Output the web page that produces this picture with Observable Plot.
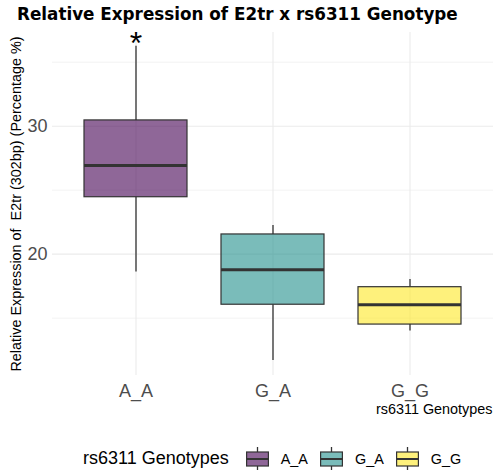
<!DOCTYPE html>
<html><head><meta charset="utf-8">
<script src="https://cdn.jsdelivr.net/npm/d3@7"></script>
<script src="https://cdn.jsdelivr.net/npm/@observablehq/plot@0.6"></script>
<style>
body{margin:0;background:#fff;}
#wrap{position:relative;width:500px;height:474px;overflow:hidden;background:#fff;font-family:"Liberation Sans",Arial,sans-serif;}
#title{position:absolute;left:17px;top:6px;z-index:2;font-family:"DejaVu Sans",sans-serif;font-weight:bold;font-size:16.8px;line-height:17px;white-space:nowrap;color:#000;}
#chart{position:absolute;left:0;top:22px;z-index:1;}
#legend{position:absolute;left:83px;top:447px;height:23px;display:flex;align-items:center;white-space:nowrap;}
#legend .lt{font-size:18px;margin-right:17px;color:#000;}
#legend .lk{margin-right:12px;display:block;}
#legend .ll{font-size:14.4px;margin-right:12px;color:#000;}
</style></head><body><div id="wrap"><div id="title">Relative Expression of E2tr x rs6311 Genotype</div><div id="chart"></div><div id="legend"></div></div>
<script>
const genotypes = ["A_A", "G_A", "G_G"];
const whiskerLow = [18.6, 11.7, 14.0];
const q1 = [24.45, 16.05, 14.5];
const medians = [26.93, 18.78, 16.05];
const q3 = [30.45, 21.54, 17.42];
const whiskerHigh = [36.25, 22.24, 18.02];
const annotations = ["*", "", ""];
const yTicks = [20, 30];
const yMinorTicks = [15, 25, 35];
const colors = ["#440154", "#21908C", "#FDE725"];
const legendTitle = "rs6311 Genotypes";

const rows = genotypes.map((g, i) => ({g, lo: whiskerLow[i], q1: q1[i], med: medians[i], q3: q3[i], hi: whiskerHigh[i], note: annotations[i]}));

const chart = Plot.plot({
  width: 500, height: 406,
  marginTop: 10, marginBottom: 53, marginLeft: 52, marginRight: 7,
  style: {fontFamily: "Liberation Sans, Arial, sans-serif", background: "none"},
  x: {domain: genotypes, paddingInner: 0.25, paddingOuter: 0.225, label: null},
  y: {domain: [10.52, 37.32], label: null},
  color: {domain: genotypes, range: colors},
  marks: [
    Plot.gridY(yMinorTicks, {stroke: "#ebebeb", strokeOpacity: 1, strokeWidth: 0.6}),
    Plot.gridY(yTicks, {stroke: "#ebebeb", strokeOpacity: 1, strokeWidth: 1.1}),
    Plot.gridX(genotypes, {stroke: "#ebebeb", strokeOpacity: 1, strokeWidth: 1.1}),
    Plot.axisY(yTicks, {tickSize: 0, tickPadding: 5, fontSize: 18, fill: "#4d4d4d", label: null}),
    Plot.axisX({tickSize: 0, tickPadding: 9, fontSize: 18, fill: "#4d4d4d", label: null}),
    Plot.ruleX(rows, {x: "g", y1: "lo", y2: "q1", stroke: "#333", strokeWidth: 1.3}),
    Plot.ruleX(rows, {x: "g", y1: "q3", y2: "hi", stroke: "#333", strokeWidth: 1.3}),
    Plot.barY(rows, {x: "g", y1: "q1", y2: "q3", fill: "g", fillOpacity: 0.6, stroke: "#333", strokeWidth: 1.2}),
    Plot.tickY(rows, {x: "g", y: "med", stroke: "#333", strokeWidth: 3}),
    Plot.text(rows, {x: "g", y: "hi", text: "note", fontSize: 32, lineAnchor: "bottom", dy: 8, fill: "black"}),
    Plot.text(["Relative Expression of  E2tr (302bp) (Percentage %)"], {frameAnchor: "left", textAnchor: "middle", lineAnchor: "middle", rotate: -90, dx: -36.5, fontSize: 14.4, fill: "black"}),
    Plot.text([legendTitle], {frameAnchor: "bottom-right", textAnchor: "end", lineAnchor: "bottom", dy: 38.5, dx: -1, fontSize: 14.4, fill: "black"})
  ]
});
document.getElementById("chart").appendChild(chart);

const legend = d3.select("#legend");
legend.append("span").attr("class", "lt").text(legendTitle);
genotypes.forEach((g, i) => {
  const svg = legend.append("svg").attr("class", "lk").attr("width", 23).attr("height", 23);
  svg.append("line").attr("x1", 11.5).attr("x2", 11.5).attr("y1", 0).attr("y2", 23).attr("stroke", "#333").attr("stroke-width", 1.3);
  svg.append("rect").attr("x", 0.6).attr("y", 5).attr("width", 21.8).attr("height", 14)
    .attr("fill", "white").attr("stroke", "none");
  svg.append("rect").attr("x", 0.6).attr("y", 5).attr("width", 21.8).attr("height", 14)
    .attr("fill", colors[i]).attr("fill-opacity", 0.6).attr("stroke", "#333").attr("stroke-width", 1.2);
  svg.append("line").attr("x1", 0.6).attr("x2", 22.4).attr("y1", 12).attr("y2", 12).attr("stroke", "#333").attr("stroke-width", 2);
  legend.append("span").attr("class", "ll").text(g);
});
</script></body></html>
